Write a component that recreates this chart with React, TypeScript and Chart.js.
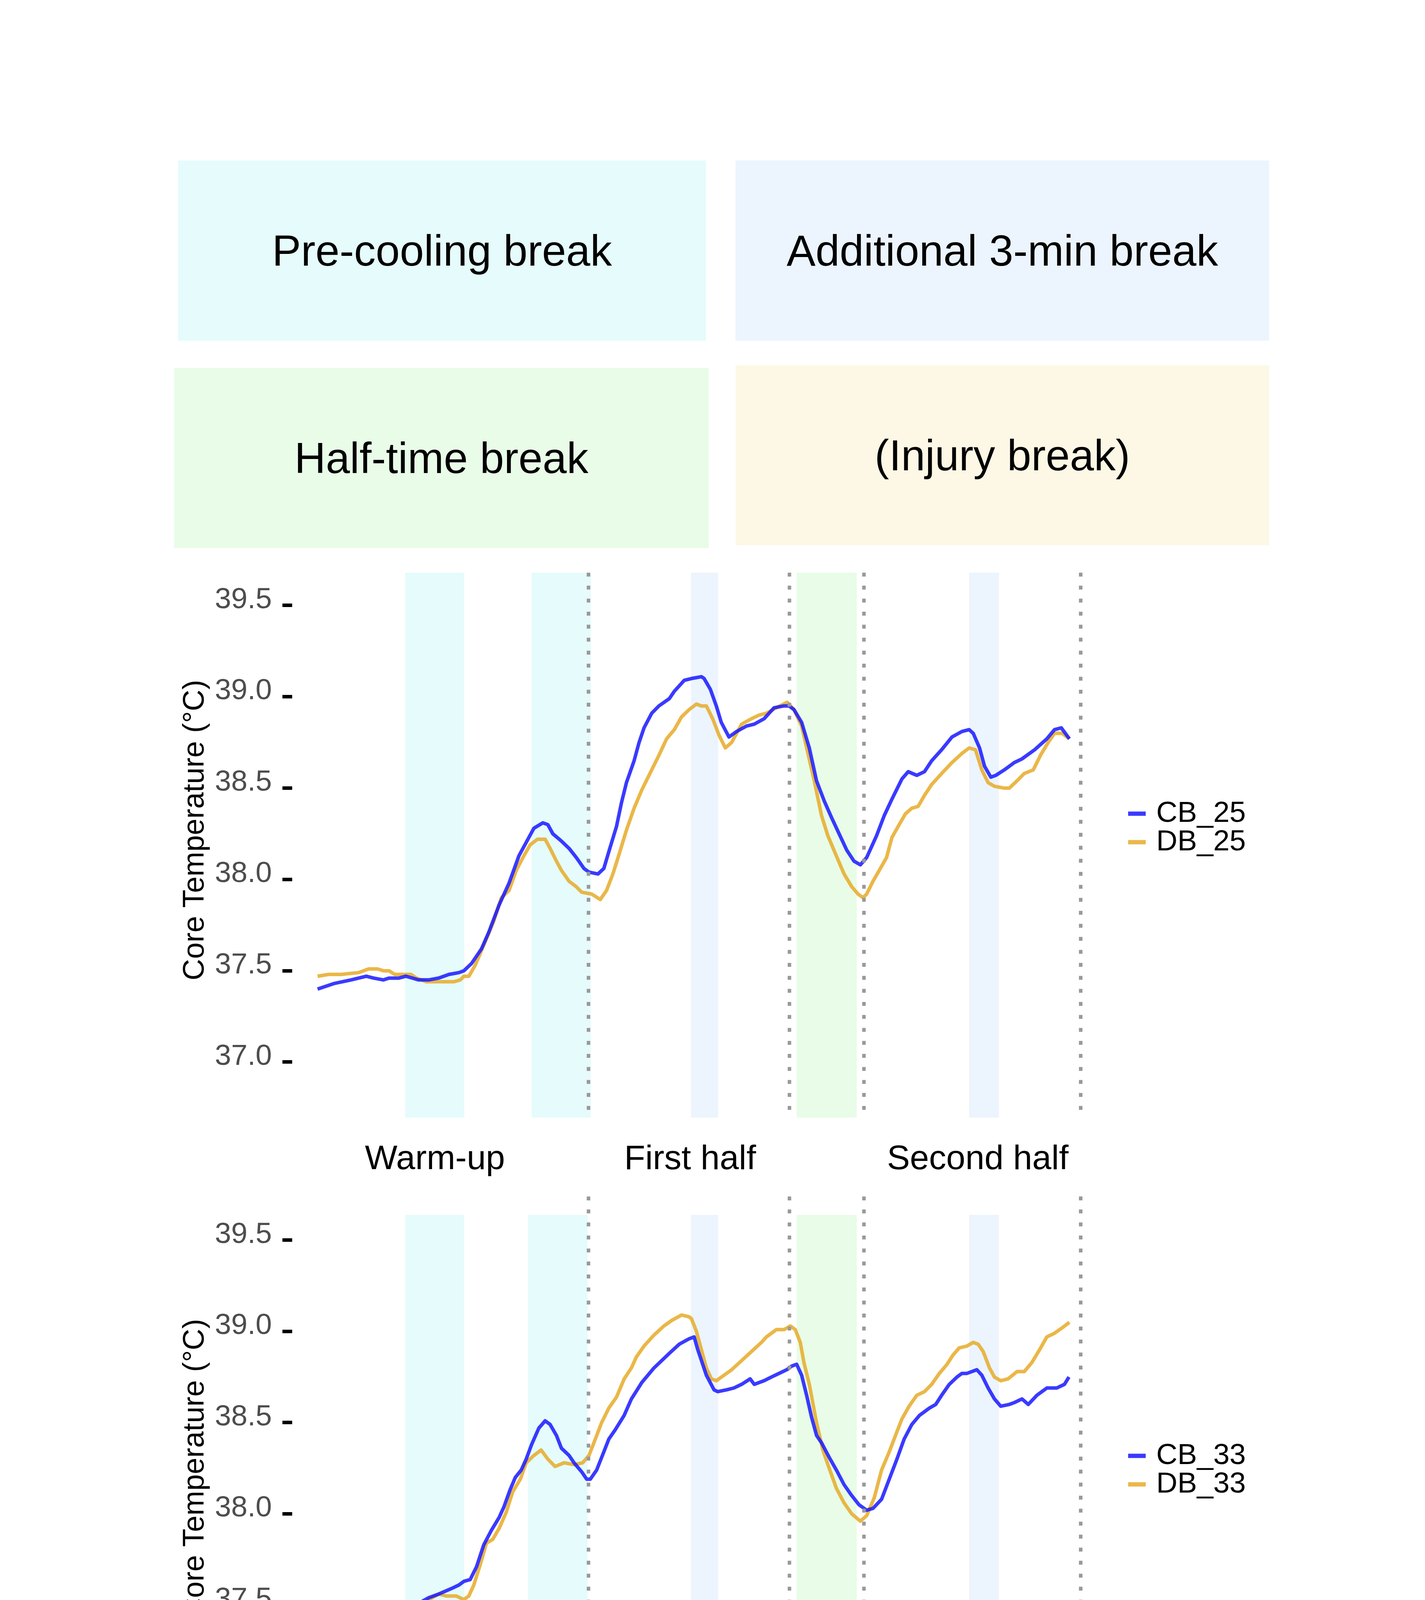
import React, { useEffect, useRef } from 'react';
import { Chart, registerables } from 'chart.js';

Chart.register(...registerables);

const FONT = "'Liberation Sans', Arial, Helvetica, sans-serif";

// ---------- data (time in minutes from start of warm-up, core temperature in °C) ----------
const CB_25_TIME = [0, 3.6, 7.4, 10.8, 12.4, 14.6, 15.8, 18.0, 19.6, 22.4, 24.6, 26.8, 29.1, 31.3, 32.4, 34.1, 36.3, 37.9, 40.2, 42.4, 44.6, 46.8, 47.9, 49.9, 51.0, 52.1, 54.0, 55.7, 57.3, 59.0, 60.1, 62.1, 63.4, 64.6, 66.2, 67.3, 68.4, 70.1, 71.2, 72.3, 74.0, 75.6, 77.9, 79.0, 81.2, 82.8, 85.0, 85.6, 87.0, 88.3, 89.4, 91.1, 92.8, 95.0, 96.7, 98.9, 101.1, 103.3, 104.4, 105.5, 107.2, 108.9, 110.5, 112.2, 113.8, 115.5, 117.2, 118.8, 120.2, 121.6, 123.8, 125.5, 127.2, 129.4, 130.8, 132.7, 134.4, 136.0, 138.2, 140.5, 142.7, 144.3, 145.2, 146.6, 147.7, 149.1, 150.2, 152.1, 154.3, 156.0, 158.8, 161.5, 163.2, 164.7, 166.5];
const CB_25_TEMP = [37.40, 37.43, 37.45, 37.47, 37.46, 37.45, 37.46, 37.46, 37.47, 37.45, 37.45, 37.46, 37.48, 37.49, 37.50, 37.54, 37.62, 37.71, 37.86, 37.98, 38.13, 38.23, 38.28, 38.31, 38.30, 38.25, 38.21, 38.17, 38.12, 38.06, 38.04, 38.03, 38.06, 38.16, 38.29, 38.42, 38.53, 38.65, 38.75, 38.83, 38.91, 38.95, 38.99, 39.03, 39.09, 39.10, 39.11, 39.10, 39.04, 38.95, 38.86, 38.78, 38.81, 38.84, 38.85, 38.88, 38.94, 38.95, 38.95, 38.93, 38.86, 38.72, 38.54, 38.43, 38.34, 38.25, 38.16, 38.10, 38.08, 38.12, 38.24, 38.35, 38.44, 38.55, 38.59, 38.57, 38.59, 38.65, 38.71, 38.78, 38.81, 38.82, 38.80, 38.72, 38.62, 38.56, 38.57, 38.60, 38.64, 38.66, 38.71, 38.77, 38.82, 38.83, 38.77];

const DB_25_TIME = [0, 2.4, 5.2, 9.1, 11.3, 13.3, 14.6, 15.8, 17.1, 19.1, 20.7, 21.9, 24.1, 25.2, 27.9, 30.2, 31.6, 32.4, 33.5, 34.9, 36.8, 39.0, 40.7, 42.4, 44.0, 45.7, 47.1, 48.7, 50.4, 51.5, 52.9, 54.0, 55.7, 57.3, 58.5, 60.7, 62.6, 64.0, 65.4, 66.8, 68.4, 70.1, 71.8, 74.0, 75.6, 77.3, 79.0, 80.6, 82.3, 83.9, 85.0, 86.1, 87.5, 88.9, 90.3, 91.7, 93.9, 96.1, 97.8, 99.4, 101.6, 104.0, 105.5, 107.2, 108.6, 110.0, 111.6, 113.0, 114.7, 116.6, 118.3, 119.7, 120.8, 121.6, 123.0, 124.4, 126.0, 127.2, 128.8, 130.2, 131.6, 133.0, 134.4, 136.0, 138.2, 140.5, 142.7, 144.3, 145.7, 147.1, 148.5, 149.9, 152.1, 153.2, 154.9, 156.5, 158.5, 160.1, 161.8, 163.2, 164.9, 166.5];
const DB_25_TEMP = [37.47, 37.48, 37.48, 37.49, 37.51, 37.51, 37.50, 37.50, 37.48, 37.48, 37.48, 37.46, 37.44, 37.44, 37.44, 37.44, 37.45, 37.47, 37.47, 37.53, 37.64, 37.77, 37.90, 37.94, 38.05, 38.13, 38.19, 38.22, 38.22, 38.17, 38.10, 38.05, 37.99, 37.96, 37.93, 37.92, 37.89, 37.94, 38.03, 38.14, 38.27, 38.39, 38.49, 38.60, 38.68, 38.77, 38.82, 38.89, 38.93, 38.96, 38.95, 38.95, 38.88, 38.79, 38.72, 38.75, 38.85, 38.88, 38.90, 38.91, 38.94, 38.97, 38.93, 38.84, 38.69, 38.54, 38.35, 38.24, 38.14, 38.03, 37.96, 37.92, 37.90, 37.92, 37.99, 38.05, 38.12, 38.23, 38.30, 38.36, 38.39, 38.40, 38.46, 38.52, 38.58, 38.64, 38.69, 38.72, 38.71, 38.60, 38.53, 38.51, 38.50, 38.50, 38.54, 38.58, 38.60, 38.68, 38.75, 38.80, 38.80, 38.77];

const CB_33_TIME = [0, 1.9, 3.6, 6.3, 9.1, 11.3, 13.5, 14.6, 16.9, 18.5, 20.2, 22.4, 24.6, 26.8, 29.6, 31.3, 32.4, 33.8, 35.2, 36.8, 38.5, 40.2, 41.3, 42.6, 43.8, 45.1, 46.2, 47.4, 49.0, 50.4, 51.5, 52.9, 54.0, 55.7, 56.8, 58.5, 59.6, 60.4, 61.8, 63.4, 64.5, 65.9, 67.9, 69.5, 71.8, 74.5, 76.2, 77.9, 80.1, 82.3, 83.4, 84.2, 86.1, 87.8, 88.6, 90.6, 92.2, 93.9, 95.8, 96.7, 98.9, 100.5, 102.2, 103.9, 105.0, 106.1, 107.2, 108.3, 109.4, 110.5, 111.6, 113.3, 114.9, 116.6, 118.3, 119.9, 121.6, 123.0, 124.9, 126.6, 128.3, 129.9, 131.6, 133.3, 135.5, 136.9, 138.2, 139.9, 141.6, 142.7, 143.8, 146.0, 147.1, 148.5, 149.9, 151.3, 153.2, 154.3, 156.0, 157.4, 159.3, 161.5, 163.7, 165.4, 166.4];
const CB_33_TEMP = [37.45, 37.44, 37.44, 37.45, 37.44, 37.46, 37.46, 37.45, 37.45, 37.46, 37.49, 37.51, 37.54, 37.56, 37.59, 37.61, 37.63, 37.64, 37.71, 37.83, 37.91, 37.98, 38.04, 38.13, 38.20, 38.24, 38.30, 38.38, 38.47, 38.51, 38.49, 38.43, 38.36, 38.32, 38.28, 38.23, 38.19, 38.19, 38.24, 38.34, 38.41, 38.46, 38.54, 38.63, 38.72, 38.80, 38.84, 38.88, 38.93, 38.96, 38.97, 38.90, 38.76, 38.68, 38.67, 38.68, 38.69, 38.71, 38.74, 38.71, 38.73, 38.75, 38.77, 38.79, 38.81, 38.82, 38.76, 38.65, 38.53, 38.43, 38.39, 38.31, 38.24, 38.16, 38.10, 38.05, 38.02, 38.03, 38.08, 38.19, 38.30, 38.41, 38.49, 38.54, 38.58, 38.60, 38.65, 38.71, 38.75, 38.77, 38.77, 38.79, 38.76, 38.69, 38.63, 38.59, 38.60, 38.61, 38.63, 38.60, 38.65, 38.69, 38.69, 38.71, 38.75];

const DB_33_TIME = [0, 1.3, 3.6, 5.2, 6.6, 9.1, 11.0, 12.7, 14.6, 16.3, 18.0, 20.7, 22.4, 24.6, 26.8, 28.5, 30.7, 32.4, 33.5, 34.6, 36.0, 37.4, 38.8, 40.2, 41.8, 43.2, 44.9, 46.2, 47.9, 49.5, 51.0, 52.6, 54.6, 56.8, 58.7, 60.1, 61.2, 62.9, 64.5, 66.2, 67.9, 69.5, 70.6, 72.3, 74.5, 76.7, 78.4, 80.6, 82.3, 82.8, 83.9, 85.0, 86.1, 87.2, 88.3, 90.0, 91.7, 93.9, 96.1, 98.3, 99.4, 101.6, 103.3, 104.7, 105.8, 106.9, 107.7, 108.9, 110.5, 111.9, 113.3, 114.9, 116.6, 118.3, 120.2, 121.6, 123.3, 124.9, 126.6, 128.3, 129.4, 131.0, 132.7, 134.4, 136.0, 137.7, 139.4, 140.7, 142.1, 143.8, 145.2, 146.3, 147.4, 148.8, 149.9, 151.3, 152.9, 154.9, 156.5, 158.2, 159.9, 161.5, 163.2, 164.9, 166.5];
const DB_33_TEMP = [37.39, 37.40, 37.40, 37.38, 37.41, 37.43, 37.44, 37.48, 37.47, 37.48, 37.48, 37.46, 37.48, 37.53, 37.56, 37.55, 37.55, 37.53, 37.55, 37.61, 37.72, 37.84, 37.86, 37.92, 38.01, 38.12, 38.19, 38.28, 38.32, 38.35, 38.30, 38.26, 38.28, 38.27, 38.28, 38.32, 38.39, 38.50, 38.58, 38.64, 38.74, 38.80, 38.86, 38.92, 38.98, 39.03, 39.06, 39.09, 39.08, 39.07, 39.00, 38.90, 38.80, 38.74, 38.73, 38.76, 38.79, 38.84, 38.89, 38.94, 38.97, 39.01, 39.01, 39.03, 39.01, 38.94, 38.83, 38.71, 38.50, 38.35, 38.25, 38.14, 38.06, 38.00, 37.96, 37.99, 38.09, 38.24, 38.34, 38.45, 38.52, 38.59, 38.65, 38.67, 38.71, 38.77, 38.82, 38.87, 38.91, 38.92, 38.94, 38.93, 38.89, 38.80, 38.75, 38.73, 38.74, 38.78, 38.78, 38.83, 38.90, 38.97, 38.99, 39.02, 39.05];

const NB_25_TIME = [4.9, 6.3, 7.4, 9.1, 10.8, 12.4, 14.1, 15.8, 17.4, 19.1, 20.7, 22.4, 24.1, 25.7, 27.4, 29.1, 31.3, 32.9, 34.6, 36.8, 38.5, 40.2, 41.5, 42.4, 43.5, 44.3, 45.1, 46.2, 47.4, 48.5, 49.9, 51.2, 52.6, 53.5, 54.3, 55.7, 56.7, 58.5, 59.6, 60.7, 62.6, 63.7, 65.1, 66.8, 68.4, 70.1, 71.8, 73.4, 75.4, 77.3, 79.0, 80.6, 82.7, 84.2, 86.1, 88.3, 90.0, 91.9, 93.9, 96.1, 97.8, 99.4, 100.8, 102.5, 103.8, 104.7, 105.5, 106.6, 107.7, 108.8, 109.9, 111.1, 112.2, 113.6, 114.9, 116.6, 118.3, 119.7, 121.0, 122.7, 124.4, 125.5, 127.2, 128.5, 129.9, 131.0, 132.1, 133.3, 134.6, 135.5, 136.9, 138.2, 139.6, 141.0, 142.7, 144.3, 146.3, 148.0, 149.3, 150.7, 152.4, 154.9, 156.5, 158.2, 160.4, 162.1, 164.0, 166.0, 166.5];
const NB_25_TEMP = [37.53, 37.52, 37.52, 37.53, 37.56, 37.56, 37.59, 37.60, 37.61, 37.63, 37.63, 37.64, 37.66, 37.66, 37.66, 37.66, 37.66, 37.65, 37.68, 37.67, 37.68, 37.71, 37.77, 37.81, 37.89, 37.97, 38.06, 38.14, 38.22, 38.24, 38.33, 38.42, 38.51, 38.54, 38.56, 38.54, 38.51, 38.53, 38.55, 38.57, 38.55, 38.57, 38.64, 38.75, 38.86, 38.94, 39.01, 39.04, 39.08, 39.07, 39.07, 39.04, 39.00, 39.04, 39.09, 39.12, 39.14, 39.17, 39.16, 39.18, 39.18, 39.20, 39.23, 39.24, 39.26, 39.24, 39.19, 39.08, 38.93, 38.79, 38.67, 38.59, 38.52, 38.46, 38.39, 38.33, 38.29, 38.30, 38.31, 38.31, 38.31, 38.34, 38.36, 38.36, 38.40, 38.43, 38.49, 38.55, 38.61, 38.65, 38.70, 38.75, 38.81, 38.85, 38.89, 38.96, 39.01, 39.02, 39.03, 39.06, 39.09, 39.10, 39.12, 39.13, 39.16, 39.19, 39.24, 39.26, 39.27];

// break periods (minutes)
const PRECOOL_BANDS_A = [[19.4, 32.5], [47.4, 60.5]];
const PRECOOL_BANDS_B = [[19.4, 32.5], [46.6, 59.8]];
const EXTRA_BANDS = [[82.7, 88.7], [144.3, 150.9]];
const HALFTIME_BANDS = [[106.1, 119.4]];
const INJURY_BANDS = [[78.5, 82.0]];
const PERIOD_LINES = [60.0, 104.5, 121.0, 169.0];

// axis labels
const Y_TICKS = [37.0, 37.5, 38.0, 38.5, 39.0, 39.5];
const SEGMENT_LABELS = ['Warm-up', 'First half', 'Second half'];
const SEGMENT_LABEL_AT = [26.0, 82.5, 146.2];
const Y_TITLE = 'Core Temperature (°C)';
const BOX_LABELS = ['Pre-cooling break', 'Additional 3-min break', 'Half-time break', '(Injury break)'];

// ---------- styles ----------
const C_PRECOOL = '#E5FBFC';
const C_EXTRA = '#ECF4FD';
const C_HALF = '#E8FCE8';
const C_INJURY = '#FDF8E5';
const C_BLUE = 'rgba(23,23,255,0.85)';
const C_ORANGE = 'rgba(230,170,40,0.85)';
const C_GREEN = '#558536';

const X_MIN = -5.62;
const X_MAX = 175.35;
const Y_AXIS_W = 300;
const CHART_LEFT = 748;
const CHART_RIGHT = 2840;
const PAGE_W = 3648;

const bandList = (ranges: number[][], color: string) => ranges.map((r) => ({ from: r[0], to: r[1], color }));

const series = (label: string, t: number[], v: number[], color: string) => ({
  label,
  data: t.map((x, i) => ({ x, y: v[i] })),
  borderColor: color,
  backgroundColor: color,
  borderWidth: 9,
  pointRadius: 0,
  tension: 0,
  borderJoinStyle: 'round' as const,
  fill: false,
});

const PANELS = [
  {
    canvasTop: 1300, height: 1800, chartTop: 1466, chartBottom: 2861, xAxisH: 180, labelPad: 55,
    yMin: 36.6963, yMax: 39.6796, bandTop: null as number | null,
    bands: [...bandList(PRECOOL_BANDS_A, C_PRECOOL), ...bandList(EXTRA_BANDS, C_EXTRA), ...bandList(HALFTIME_BANDS, C_HALF)],
    datasets: [series('CB_25', CB_25_TIME, CB_25_TEMP, C_BLUE), series('DB_25', DB_25_TIME, DB_25_TEMP, C_ORANGE)],
    legendY: [2083, 2156], titleY: 2125,
  },
  {
    canvasTop: 2900, height: 1850, chartTop: 3063, chartBottom: 4513, xAxisH: 200, labelPad: 71,
    yMin: 36.6349, yMax: 39.7398, bandTop: 39.639 as number | null,
    bands: [...bandList(PRECOOL_BANDS_B, C_PRECOOL), ...bandList(EXTRA_BANDS, C_EXTRA), ...bandList(HALFTIME_BANDS, C_HALF)],
    datasets: [series('CB_33', CB_33_TIME, CB_33_TEMP, C_BLUE), series('DB_33', DB_33_TIME, DB_33_TEMP, C_ORANGE)],
    legendY: [3727, 3800], titleY: 3761,
  },
  {
    canvasTop: 4550, height: 1950, chartTop: 4733, chartBottom: 6120, xAxisH: 250, labelPad: 105,
    yMin: 36.709, yMax: 39.673, bandTop: 39.641 as number | null,
    bands: [...bandList(INJURY_BANDS, C_INJURY), ...bandList(HALFTIME_BANDS, C_HALF)],
    datasets: [series('NB_25', NB_25_TIME, NB_25_TEMP, C_GREEN)],
    legendY: [5395], titleY: 5397,
  },
];

const decorPlugin = {
  id: 'decor',
  beforeDatasetsDraw(chart: any, _args: any, opts: any) {
    const { ctx, chartArea } = chart;
    const x = chart.scales.x;
    const y = chart.scales.y;
    ctx.save();
    const top = opts.bandTop == null ? chartArea.top : y.getPixelForValue(opts.bandTop);
    for (const b of opts.bands) {
      const x0 = x.getPixelForValue(b.from);
      const x1 = x.getPixelForValue(b.to);
      ctx.fillStyle = b.color;
      ctx.fillRect(x0, top, x1 - x0, chartArea.bottom - top);
    }
    ctx.restore();
  },
  afterDatasetsDraw(chart: any, _args: any, opts: any) {
    const { ctx, chartArea } = chart;
    const x = chart.scales.x;
    ctx.save();
    ctx.strokeStyle = '#999999';
    ctx.lineWidth = 9;
    ctx.lineCap = 'butt';
    ctx.setLineDash([10, 23.3]);
    for (const v of opts.vlines) {
      const px = x.getPixelForValue(v);
      ctx.beginPath();
      ctx.moveTo(px, chartArea.top);
      ctx.lineTo(px, chartArea.bottom);
      ctx.stroke();
    }
    ctx.restore();
  },
  afterDraw(chart: any, _args: any, opts: any) {
    const { ctx } = chart;
    const off = opts.canvasTop;
    ctx.save();
    // y-axis title
    ctx.translate(500, opts.titleY - off);
    ctx.rotate(-Math.PI / 2);
    ctx.font = `76px ${FONT}`;
    ctx.fillStyle = '#000000';
    ctx.textAlign = 'center';
    ctx.textBaseline = 'middle';
    ctx.fillText(opts.title, 0, 0);
    ctx.restore();
    // legend
    ctx.save();
    chart.data.datasets.forEach((ds: any, i: number) => {
      const yy = opts.legendY[i] - off;
      ctx.strokeStyle = ds.borderColor;
      ctx.lineWidth = 11;
      ctx.lineCap = 'butt';
      ctx.beginPath();
      ctx.moveTo(2888, yy);
      ctx.lineTo(2933, yy);
      ctx.stroke();
      ctx.font = `75px ${FONT}`;
      ctx.fillStyle = '#000000';
      ctx.textAlign = 'left';
      ctx.textBaseline = 'middle';
      ctx.fillText(ds.label, 2960, yy);
    });
    ctx.restore();
  },
};

function Panel({ cfg }: { cfg: (typeof PANELS)[number] }) {
  const ref = useRef<HTMLCanvasElement>(null);
  useEffect(() => {
    const padTop = cfg.chartTop - cfg.canvasTop;
    const padBottom = cfg.height - (cfg.chartBottom - cfg.canvasTop) - cfg.xAxisH;
    const chart = new Chart(ref.current as HTMLCanvasElement, {
      type: 'line',
      data: { datasets: cfg.datasets as any },
      plugins: [decorPlugin as any],
      options: {
        animation: false,
        responsive: false,
        devicePixelRatio: 1,
        events: [],
        layout: {
          padding: { left: CHART_LEFT - Y_AXIS_W, right: PAGE_W - CHART_RIGHT, top: padTop, bottom: padBottom },
        },
        scales: {
          x: {
            type: 'linear',
            position: 'bottom',
            min: X_MIN,
            max: X_MAX,
            grid: { display: false, drawTicks: false },
            border: { display: false },
            ticks: {
              autoSkip: false,
              maxRotation: 0,
              minRotation: 0,
              padding: cfg.labelPad,
              color: '#000000',
              font: { family: FONT, size: 88 },
              callback: (_v: any, i: number) => SEGMENT_LABELS[i],
            },
            afterBuildTicks: (s: any) => {
              s.ticks = SEGMENT_LABEL_AT.map((v) => ({ value: v }));
            },
            afterFit: (s: any) => {
              s.height = cfg.xAxisH;
            },
          },
          y: {
            type: 'linear',
            position: 'left',
            min: cfg.yMin,
            max: cfg.yMax,
            grid: {
              display: true,
              drawOnChartArea: false,
              drawTicks: true,
              tickLength: 25,
              tickWidth: 9,
              tickColor: '#000000',
            },
            border: { display: false },
            ticks: {
              padding: 27,
              labelOffset: -14,
              color: '#4D4D4D',
              font: { family: FONT, size: 75 },
              callback: (v: any) => Number(v).toFixed(1),
            },
            afterBuildTicks: (s: any) => {
              s.ticks = Y_TICKS.map((v) => ({ value: v }));
            },
            afterFit: (s: any) => {
              s.width = Y_AXIS_W;
            },
          },
        },
        plugins: {
          legend: { display: false },
          tooltip: { enabled: false },
          decor: {
            bands: cfg.bands,
            bandTop: cfg.bandTop,
            vlines: PERIOD_LINES,
            legendY: cfg.legendY,
            titleY: cfg.titleY,
            canvasTop: cfg.canvasTop,
            title: Y_TITLE,
          },
        } as any,
      } as any,
    });
    return () => chart.destroy();
  }, [cfg]);
  return (
    <canvas
      ref={ref}
      width={PAGE_W}
      height={cfg.height}
      style={{ position: 'absolute', left: 0, top: cfg.canvasTop, width: PAGE_W, height: cfg.height }}
    />
  );
}

const BOXES = [
  { label: BOX_LABELS[0], color: C_PRECOOL, left: 456, top: 411, w: 1351, h: 461 },
  { label: BOX_LABELS[1], color: C_EXTRA, left: 1883, top: 411, w: 1366, h: 461 },
  { label: BOX_LABELS[2], color: C_HALF, left: 446, top: 942, w: 1368, h: 461 },
  { label: BOX_LABELS[3], color: C_INJURY, left: 1883, top: 935, w: 1366, h: 461 },
];

export default function App() {
  return (
    <div style={{ position: 'absolute', left: 0, top: 0, width: PAGE_W, height: 6780, background: '#ffffff', overflow: 'hidden' }}>
      {BOXES.map((b) => (
        <div
          key={b.label}
          style={{
            position: 'absolute',
            left: b.left,
            top: b.top,
            width: b.w,
            height: b.h,
            background: b.color,
            display: 'flex',
            alignItems: 'center',
            justifyContent: 'center',
            fontFamily: FONT,
            fontSize: 111,
            color: '#000000',
            whiteSpace: 'nowrap',
          }}
        >
          {b.label}
        </div>
      ))}
      {PANELS.map((p, i) => (
        <Panel key={i} cfg={p} />
      ))}
    </div>
  );
}
